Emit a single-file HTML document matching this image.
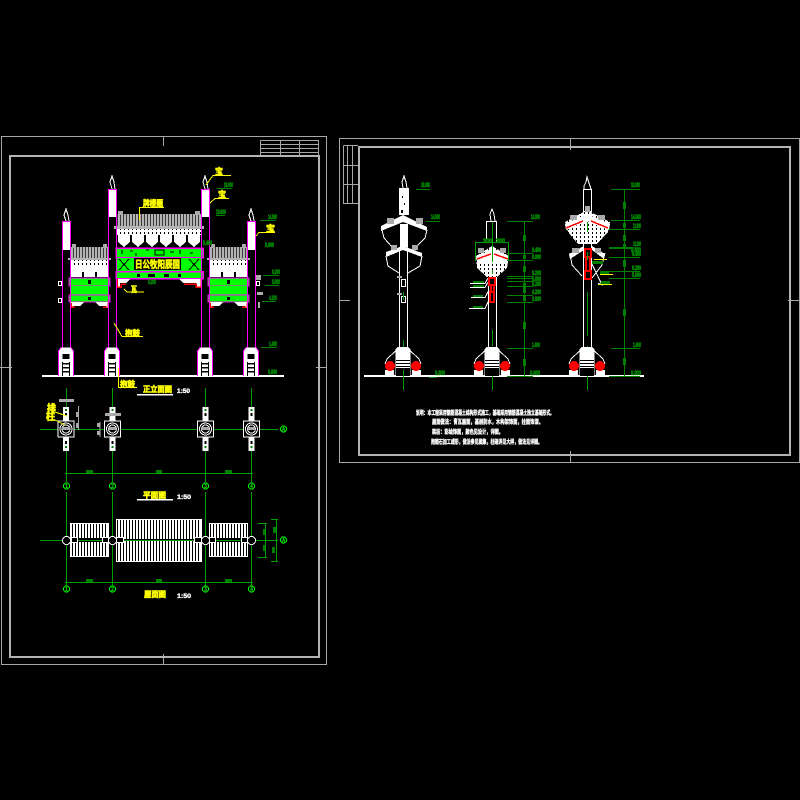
<!DOCTYPE html>
<html><head><meta charset="utf-8"><title>牌楼立面图</title>
<style>
html,body{margin:0;padding:0;background:#000;width:800px;height:800px;overflow:hidden}
svg{display:block}
text{font-family:"Liberation Sans","Noto Sans CJK SC",sans-serif;font-weight:bold}
.d{fill:#008000;stroke:#008000;stroke-width:.7px;font-size:6px}
.y{fill:#ffff00;stroke:#ffff00;stroke-width:.6px;font-size:8px}
.w{fill:#fff;stroke:#fff;stroke-width:.35px;font-size:6px}
.b{fill:#00ff00;font-size:5px;text-anchor:middle}
</style></head><body>
<svg width="800" height="800" viewBox="0 0 800 800" xmlns="http://www.w3.org/2000/svg" shape-rendering="crispEdges">
<defs>
<pattern id="roof" width="3" height="10" patternUnits="userSpaceOnUse"><rect width="3" height="10" fill="#b4b4b4"/><rect width="1" height="10" fill="#3a3a3a"/></pattern>
<pattern id="hatch" width="3" height="10" patternUnits="userSpaceOnUse"><rect width="3" height="10" fill="#fff"/><rect width="1" height="10" fill="#000"/></pattern>
<pattern id="dots" width="4" height="4" patternUnits="userSpaceOnUse"><rect width="4" height="4" fill="#fff"/><rect width="1" height="2" fill="#000"/></pattern>
<pattern id="dots2" width="4" height="4" patternUnits="userSpaceOnUse"><rect width="4" height="4" fill="#fff"/><rect width="1" height="2" fill="#000"/></pattern>
<g id="fbase">
<path d="M-7.5 351 L-5 347.500 H5 L7.500 351 V376 H-7.500Z" fill="#fff"/>
<path d="M-7.500 376 V351 L-5 347.500 M7.500 376 V351 L5 347.500" fill="none" stroke="#f0f" stroke-width="1"/>
<rect x="-3.500" y="354" width="7" height="5" fill="#000"/>
<rect x="-4" y="362" width="1" height="14" fill="#000"/><rect x="3" y="362" width="1" height="14" fill="#000"/>
<rect x="-3" y="363" width="6" height="1.500" fill="#000"/><rect x="-3" y="367" width="6" height="1.500" fill="#000"/><rect x="-3" y="371" width="6" height="1.500" fill="#000"/>
</g>
<g id="sbase">
<path d="M-7.500 349 L-5 347 H5 L7.500 349 V376 H-7.500Z" fill="#fff"/>
<rect x="-7" y="360" width="14" height="1" fill="#000"/><rect x="-7" y="363" width="14" height="1" fill="#000"/><rect x="-7" y="366" width="14" height="1" fill="#000"/>
<rect x="-7" y="368" width="14" height="8" fill="#000"/>
<path d="M-7.500 351 L-16 359 L-18 364 M7.500 351 L16 359 L18 364" fill="none" stroke="#fff"/>
<rect x="-18" y="370" width="9" height="6" fill="#fff"/><rect x="9" y="370" width="9" height="6" fill="#fff"/>
<circle cx="-13" cy="366" r="5" fill="#f00"/><circle cx="13" cy="366" r="5" fill="#f00"/>
</g>
<g id="pln">
<rect x="-3" y="-22" width="6" height="44" fill="#fff"/>
<rect x="-8" y="-8" width="16" height="16" fill="#000" stroke="#fff"/>
<circle r="6" fill="none" stroke="#fff"/><circle r="4" fill="none" stroke="#fff"/>
<rect x="-4" y="-2" width="8" height="3" fill="#aaa"/>
<rect x="-1" y="-16" width="2" height="3" fill="#000"/><rect x="-1" y="12" width="2" height="3" fill="#000"/>
<rect x="-1" y="-20" width="2" height="2" fill="#008000"/><rect x="-1" y="17" width="2" height="2" fill="#008000"/>
</g>
<g id="oct"><circle r="4" fill="#000" stroke="#fff"/></g>
<g id="side">
<rect x="0" y="0" width="39" height="12" fill="url(#roof)"/>
<rect x="-2" y="11" width="43" height="2" fill="#b4b4b4"/>
<rect x="2" y="-3" width="4" height="4" fill="#aaa"/><rect x="33" y="-3" width="4" height="4" fill="#aaa"/>
<rect x="0" y="13" width="39" height="5" fill="url(#dots)"/>
<rect x="0" y="18" width="39" height="12" fill="#fff"/>
<rect x="12" y="25" width="2" height="5" fill="#000"/><rect x="25" y="25" width="2" height="5" fill="#000"/>
<rect x="-1" y="31" width="41" height="8" fill="#0f0" stroke="#f0f"/>
<rect x="1" y="39" width="37" height="9" fill="#0f0"/>
<rect x="-1" y="48" width="41" height="7" fill="#0f0" stroke="#f0f"/>
<rect x="18" y="33" width="3" height="4" fill="#000"/><rect x="18" y="50" width="3" height="3" fill="#000"/>
<path d="M1 55 H14 L10 59 H3 V61 H1Z M38 55 H25 L29 59 H36 V61 H38Z" fill="#fff"/>
<path d="M1 56 V61 M2 60 H5 M38 56 V61 M37 60 H33" stroke="#f00" stroke-width="1.500" fill="none"/>
</g>
</defs>
<rect width="800" height="800" fill="#000"/>

<!-- frames -->
<g fill="none" stroke="#a8a8a8" stroke-width="1">
<rect x="1.500" y="136.500" width="325" height="528"/>
<rect x="339.500" y="138.500" width="460" height="324"/>
<path d="M260.500 140.500 H318.500 V155 M260.500 140.500 V155 M260.500 144.500 H318.500 M260.500 148.500 H318.500 M260.500 152.500 H318.500 M280.500 140.500 V155 M299.500 140.500 V155"/>
<path d="M343.500 145.500 H358 M343.500 145.500 V203.500 H358 M347.500 145.500 V203.500 M352.500 145.500 V203.500 M343.500 165.500 H358 M343.500 184.500 H358"/>
<path d="M0 367.500 H12 M316 367.500 H326 M163.500 136 V146 M163.500 654 V664 M339 300.500 H350 M788 300.500 H800 M570.500 138 V150 M570.500 451 V462"/>
</g>
<g fill="none" stroke="#b4b4b4" stroke-width="2">
<rect x="10" y="156" width="309" height="501"/>
<rect x="359" y="147" width="431" height="308"/>
</g>

<!-- front elevation: ground -->
<rect x="42" y="375" width="242" height="2" fill="#fff"/>
<!-- column tops -->
<g fill="#fff">
<rect x="62" y="222" width="8" height="28"/><rect x="108" y="190" width="9" height="27"/><rect x="201" y="190" width="8" height="27"/><rect x="247" y="222" width="8" height="28"/>
</g>
<g fill="none" stroke="#fff">
<path d="M66 221 L64 215 L66 209 L68 215 L69 221 M112 189 L110 182 L112 176 L114 182 L115 189 M205 189 L203 182 L205 176 L207 182 L208 189 M251 221 L249 215 L251 209 L253 215 L254 221"/>
</g>
<!-- side gates -->
<use href="#side" x="70" y="247"/>
<use href="#side" x="209" y="247"/>
<!-- centre gate -->
<rect x="117" y="214" width="85" height="14" fill="url(#roof)"/>
<rect x="114" y="226" width="90" height="3" fill="#b4b4b4"/>
<rect x="118" y="211" width="5" height="4" fill="#aaa"/><rect x="195" y="211" width="5" height="4" fill="#aaa"/>
<rect x="117" y="229" width="85" height="5" fill="url(#dots2)"/>
<rect x="117" y="234" width="85" height="1" fill="#fff"/>
<g fill="#fff">
<path d="M118 235 h12 v7 l-6 5 l-6 -5z"/><path d="M132 235 h12 v7 l-6 5 l-6 -5z"/><path d="M146 235 h12 v7 l-6 5 l-6 -5z"/><path d="M160 235 h12 v7 l-6 5 l-6 -5z"/><path d="M174 235 h12 v7 l-6 5 l-6 -5z"/><path d="M188 235 h12 v7 l-6 5 l-6 -5z"/>
</g>
<rect x="116" y="248" width="87" height="9.500" fill="#0f0" stroke="#f0f" stroke-width="1.500"/>
<rect x="117" y="258" width="85" height="13" fill="#0f0"/>
<rect x="116" y="271.500" width="87" height="7" fill="#0f0" stroke="#f0f" stroke-width="1.500"/>
<g fill="none" stroke="#000" stroke-width="1">
<path d="M119 259 L129 270 M129 259 L119 270 M189 259 L199 270 M199 259 L189 270"/>
<rect x="155" y="250" width="9" height="5"/>
<path d="M122 250 v4 M130 251 h3 M136 253 v3 M146 250 h3 M170 252 h4 M180 250 v4 M190 253 h3"/>
</g>
<rect x="134" y="258" width="47" height="12" fill="#000"/>
<text x="135" y="268" class="y" style="font-size:10px" textLength="45" lengthAdjust="spacingAndGlyphs">日公牧阳辰国</text>
<g fill="#000"><rect x="137" y="274" width="3" height="3"/><rect x="148" y="274" width="7" height="3"/><rect x="164" y="274" width="5" height="3"/><rect x="178" y="274" width="3" height="3"/></g>
<path d="M117 279 H130 L126 283 H120 V287 H117Z M202 279 H179 L183 283 H196 V287 H202Z" fill="#fff"/>
<path d="M117 279 V287 H121 V284 H126 M201 279 V287 H196 V284 H184" fill="none" stroke="#f00" stroke-width="1.500"/>
<!-- magenta column lines -->
<g stroke="#f0f" stroke-width="1" fill="none">
<path d="M62.500 222 V348 M70.500 222 V348 M108.500 190 V348 M116.500 190 V348 M201.500 190 V348 M209.500 190 V348 M247.500 222 V348 M255.500 222 V348"/>
<path d="M62 221.500 H71 M108 189.500 H117 M201 189.500 H210 M247 221.500 H256"/>
</g>
<use href="#fbase" x="66" y="0"/><use href="#fbase" x="112" y="0"/><use href="#fbase" x="205" y="0"/><use href="#fbase" x="251" y="0"/>
<g fill="none" stroke="#fff"><rect x="58.500" y="281.500" width="3" height="4"/><rect x="58.500" y="298.500" width="3" height="4"/><rect x="256.500" y="281.500" width="3" height="4"/></g>
<g fill="#aaa"><rect x="256" y="275" width="5" height="5"/><rect x="257" y="292" width="6" height="3"/><rect x="258" y="302" width="2" height="6"/></g>
<!-- yellow labels -->
<g stroke="#ff0" fill="none"><path d="M139.500 220 V207.500 H164 M206 185 L213 175.500 H231 M210 203 L215 198.500 H229 M256 236 L259 232.500 H275 M124 289 L127 292 H144 M114 323 L122 336.500 H143 M118.500 368 V387.500 H137"/></g>
<text class="y" x="143" y="206" textLength="20" lengthAdjust="spacingAndGlyphs">牌楼题</text>
<text class="y" x="215" y="174" textLength="8" lengthAdjust="spacingAndGlyphs">宝</text>
<text class="y" x="218" y="197" textLength="8" lengthAdjust="spacingAndGlyphs">宝</text>
<text class="y" x="266" y="231" textLength="9" lengthAdjust="spacingAndGlyphs">宝</text>
<text class="y" x="131" y="292" textLength="6" lengthAdjust="spacingAndGlyphs">瓦</text>
<text class="y" x="125" y="336" textLength="15" lengthAdjust="spacingAndGlyphs">抱鼓</text>
<text class="y" x="120" y="387" textLength="15" lengthAdjust="spacingAndGlyphs">抱鼓</text>
<text class="y" x="143" y="392" textLength="29" lengthAdjust="spacingAndGlyphs">正立面图</text>
<text class="y" x="143" y="498" textLength="23" lengthAdjust="spacingAndGlyphs">平面图</text>
<text class="y" x="144" y="597" textLength="22" lengthAdjust="spacingAndGlyphs">屋面图</text>
<text class="y" style="font-size:10px" x="47" y="412" textLength="9" lengthAdjust="spacingAndGlyphs">排</text>
<text class="y" style="font-size:10px" x="46" y="420" textLength="9" lengthAdjust="spacingAndGlyphs">柱</text>
<g fill="#fff"><rect x="137" y="394" width="36" height="1.500"/><rect x="137" y="499" width="36" height="1.500"/></g>
<text class="w" x="177" y="393" textLength="13" lengthAdjust="spacingAndGlyphs">1:50</text>
<text class="w" x="177" y="499" textLength="14" lengthAdjust="spacingAndGlyphs">1:50</text>
<text class="w" x="177" y="598" textLength="14" lengthAdjust="spacingAndGlyphs">1:50</text>

<!-- front elevation dim labels -->
<text class="d" x="224" y="187" textLength="9" lengthAdjust="spacingAndGlyphs">18.000</text>
<text class="d" x="216" y="214" textLength="10" lengthAdjust="spacingAndGlyphs">16.600</text>
<text class="d" x="268" y="219" textLength="9" lengthAdjust="spacingAndGlyphs">14.500</text>
<text class="d" x="203" y="245" textLength="9" lengthAdjust="spacingAndGlyphs">9.400</text>
<text class="d" x="265" y="247" textLength="9" lengthAdjust="spacingAndGlyphs">9.000</text>
<text class="d" x="148" y="284" textLength="8" lengthAdjust="spacingAndGlyphs">5.200</text>
<text class="d" x="272" y="274" textLength="8" lengthAdjust="spacingAndGlyphs">6.200</text>
<text class="d" x="272" y="284" textLength="8" lengthAdjust="spacingAndGlyphs">5.600</text>
<text class="d" x="269" y="300" textLength="8" lengthAdjust="spacingAndGlyphs">4.200</text>
<text class="d" x="269" y="346" textLength="8" lengthAdjust="spacingAndGlyphs">1.400</text>
<text class="d" x="268" y="374" textLength="9" lengthAdjust="spacingAndGlyphs">0.000</text>
<g stroke="#008000" fill="none"><path d="M217 188.500 H232 M216 215.500 H225 M260 220.500 H276 M263 275.500 H279 M265 285.500 H279 M262 301.500 H276 M261 347.500 H277"/></g>

<!-- grids -->
<g stroke="#00a000" stroke-width="1" fill="none">
<path d="M66.500 388 V482 M112.500 388 V482 M205.500 388 V482 M251.500 388 V482 M66.500 492 V586 M112.500 492 V586 M205.500 492 V586 M251.500 492 V586"/>
<path d="M40 429.500 H278 M40 540.500 H278 M65 473.500 H253 M65 582.500 H253"/>
<path d="M265.500 523 V557 M258 523.500 H267 M258 557.500 H267 M276.500 519 V562 M271 519.500 H278 M271 561.500 H278"/>
</g>
<g fill="#008000"><rect x="86" y="470" width="7" height="3"/><rect x="156" y="470" width="6" height="3"/><rect x="225" y="470" width="7" height="3"/><rect x="86" y="579" width="7" height="3"/><rect x="156" y="579" width="6" height="3"/><rect x="225" y="579" width="7" height="3"/>
<rect x="263" y="529" width="2" height="6"/><rect x="263" y="545" width="2" height="6"/><rect x="273" y="527" width="3" height="6"/><rect x="272" y="547" width="3" height="6"/></g>
<g fill="#000" stroke="#0f0"><circle cx="66.500" cy="486" r="3"/><circle cx="112.500" cy="486" r="3"/><circle cx="205.500" cy="486" r="3"/><circle cx="251.500" cy="486" r="3"/><circle cx="66.500" cy="589" r="3"/><circle cx="112.500" cy="589" r="3"/><circle cx="205.500" cy="589" r="3"/><circle cx="251.500" cy="589" r="3"/><circle cx="283.500" cy="429" r="3"/><circle cx="283.500" cy="540" r="3"/></g>
<text class="b" x="66.500" y="488">1</text><text class="b" x="112.500" y="488">2</text><text class="b" x="205.500" y="488">3</text><text class="b" x="251.500" y="488">4</text>
<text class="b" x="66.500" y="591">1</text><text class="b" x="112.500" y="591">2</text><text class="b" x="205.500" y="591">3</text><text class="b" x="251.500" y="591">4</text>
<text class="b" x="283.500" y="431">A</text><text class="b" x="283.500" y="542">A</text>

<!-- column plans -->
<use href="#pln" x="66" y="429"/><use href="#pln" x="112.500" y="429"/><use href="#pln" x="205.500" y="429"/><use href="#pln" x="251.500" y="429"/>
<g fill="#aaa"><rect x="59" y="399" width="15" height="3"/><rect x="105" y="413" width="16" height="3"/><rect x="97" y="423" width="3" height="4"/><rect x="97" y="431" width="3" height="4"/><rect x="76" y="412" width="3" height="5"/><rect x="76" y="423" width="3" height="5"/></g>
<path d="M78.500 406 V430 M100 422 V437" stroke="#aaa" fill="none"/>
<path d="M55 412 L67 416 M55 420 L65 425" stroke="#ff0" fill="none"/>

<!-- roof plan -->
<g fill="url(#hatch)">
<rect x="116" y="519" width="86" height="20"/><rect x="116" y="541" width="86" height="21"/>
<rect x="70" y="523" width="39" height="15"/><rect x="70" y="542" width="39" height="15"/>
<rect x="209" y="523" width="39" height="15"/><rect x="209" y="542" width="39" height="15"/>
</g>
<g stroke="#fff" fill="none"><rect x="116.500" y="519.500" width="85" height="42"/><rect x="70.500" y="523.500" width="38" height="33"/><rect x="209.500" y="523.500" width="38" height="33"/></g>
<path d="M40 540.500 H278" stroke="#00a000"/>
<g fill="#000" stroke="#fff"><rect x="71.500" y="537.500" width="6" height="5"/><rect x="102.500" y="537.500" width="6" height="5"/><rect x="116.500" y="537.500" width="7" height="5"/><rect x="194.500" y="537.500" width="7" height="5"/><rect x="209.500" y="537.500" width="6" height="5"/><rect x="241.500" y="537.500" width="6" height="5"/></g>
<use href="#oct" x="66.500" y="540.500"/><use href="#oct" x="112.500" y="540.500"/><use href="#oct" x="205.500" y="540.500"/><use href="#oct" x="251.500" y="540.500"/>

<!-- right sheet: ground -->
<rect x="364" y="375" width="280" height="2" fill="#fff"/>

<!-- side drawing 1 -->
<g fill="none" stroke="#fff">
<path d="M403 188 L402 182 L404 176 L406 182 L407 188"/>
<path d="M399.500 247 V347 M407.500 247 V347"/>
<path d="M382 230 L384 238 L392 247 M427 230 L425 238 L416 247 M386 256 L388 266 L399 273 M422 256 L420 266 L408 273"/>
<rect x="401.500" y="279.500" width="4" height="7"/><rect x="401.500" y="296.500" width="4" height="6"/>
</g>
<g fill="#fff">
<rect x="399" y="188" width="10" height="27"/>
<rect x="400" y="224" width="8" height="23"/>
<path d="M403 215 L427 227 V231 L403 222 L381 231 V226Z"/>
<path d="M403 246 L422 253 V257 L403 250 L386 257 V252Z"/>
</g>
<g fill="#aaa"><rect x="387" y="218" width="7" height="6"/><rect x="416" y="218" width="7" height="6"/><rect x="391" y="245" width="6" height="5"/><rect x="412" y="245" width="6" height="5"/><rect x="397" y="276" width="5" height="2"/><rect x="397" y="293" width="5" height="2"/></g>
<g fill="#000"><rect x="402" y="196" width="1" height="2"/><rect x="404" y="203" width="1" height="2"/><rect x="401" y="210" width="2" height="3"/></g>
<use href="#sbase" x="403" y="0"/>
<path d="M403.500 292 V300 M403.500 340 V347 M403.500 370 V390" stroke="#00a000" fill="none"/>
<text class="d" x="421" y="187" textLength="9" lengthAdjust="spacingAndGlyphs">18.000</text><text class="d" x="431" y="219" textLength="9" lengthAdjust="spacingAndGlyphs">14.500</text><text class="d" x="435" y="375" textLength="10" lengthAdjust="spacingAndGlyphs">0.000</text>
<path d="M416 189.500 H430 M426 221.500 H440 M429 377.500 H437" stroke="#008000" fill="none"/>

<!-- side drawing 2 -->
<g fill="none" stroke="#fff">
<path d="M491 221 L490 214 L492 209 L494 214 L495 221"/>
<path d="M486.500 222 V242 M496.500 222 V242 M486 221.500 H497"/>
<path d="M488.500 277 V347 M496.500 277 V347"/>
<path d="M470 283.500 H485 L488 278 M470 287.500 H485 L488 282 M471 297.500 H485 L489 290 M469 308.500 H485 L489 300"/>
</g>
<path d="M476 256 L492 246 L509 256 L507 268 L497 277 H487 L477 268Z" fill="url(#dots2)"/>
<path d="M476 256 L492 250 L509 256 L507 262 H477Z" fill="#fff"/>
<path d="M477 259 L491 254 M494 254 L508 259" stroke="#f00" stroke-width="1.500" fill="none"/>
<g fill="#aaa"><rect x="478" y="248" width="6" height="5"/><rect x="500" y="248" width="6" height="5"/></g>
<path d="M475.500 261 V242.500 H508.500 V261 M492.500 222 V262 M492.500 270 V274 M492.500 330 V346 M492.500 368 V390" stroke="#00a000" fill="none"/>
<g fill="none" stroke="#f00" stroke-width="2"><rect x="489" y="278" width="6" height="7"/><path d="M491 285 V292 M494 285 V292"/><rect x="490" y="292" width="4" height="10"/></g>
<use href="#sbase" x="492" y="0"/>
<g fill="#008000"><rect x="473" y="281" width="11" height="2"/><rect x="473" y="285" width="11" height="2"/><rect x="473" y="295" width="10" height="2"/><rect x="473" y="306" width="10" height="2"/></g>
<text class="d" x="483" y="243" textLength="9" lengthAdjust="spacingAndGlyphs">300</text><text class="d" x="496" y="243" textLength="9" lengthAdjust="spacingAndGlyphs">300</text>

<!-- dims 2 -->
<g stroke="#008000" fill="none">
<path d="M524.500 222 V376"/>
<path d="M507 221.500 H533 M507 253.500 H533 M507 260.500 H533 M507 276.500 H533 M507 278.500 H533 M507 281.500 H533 M507 286.500 H533 M507 295.500 H533 M507 302.500 H533 M507 348.500 H533 M507 376.500 H533"/>
</g>
<g fill="#008000"><rect x="523" y="235" width="3" height="6"/><rect x="523" y="255" width="3" height="4"/><rect x="523" y="266" width="3" height="6"/><rect x="523" y="283" width="3" height="5"/><rect x="523" y="288" width="3" height="5"/><rect x="523" y="296" width="3" height="5"/><rect x="523" y="322" width="3" height="7"/><rect x="523" y="359" width="3" height="7"/></g>
<text class="d" x="531" y="219" textLength="9" lengthAdjust="spacingAndGlyphs">14.500</text>
<text class="d" x="532" y="252" textLength="9" lengthAdjust="spacingAndGlyphs">9.400</text>
<text class="d" x="532" y="259" textLength="9" lengthAdjust="spacingAndGlyphs">9.000</text>
<text class="d" x="532" y="275" textLength="9" lengthAdjust="spacingAndGlyphs">6.200</text>
<text class="d" x="532" y="281" textLength="9" lengthAdjust="spacingAndGlyphs">5.600</text>
<text class="d" x="532" y="286" textLength="9" lengthAdjust="spacingAndGlyphs">5.200</text>
<text class="d" x="532" y="294" textLength="9" lengthAdjust="spacingAndGlyphs">4.200</text>
<text class="d" x="532" y="301" textLength="9" lengthAdjust="spacingAndGlyphs">3.600</text>
<text class="d" x="532" y="347" textLength="8" lengthAdjust="spacingAndGlyphs">1.400</text>
<text class="d" x="530" y="375" textLength="10" lengthAdjust="spacingAndGlyphs">0.000</text>

<!-- side drawing 3 -->
<g fill="none" stroke="#fff">
<path d="M584 189 V186 L586 182 L587 177 L589 183 L591 189"/>
<rect x="583.500" y="189.500" width="8" height="22"/>
<path d="M583.500 240 V350 M591.500 240 V350"/>
<path d="M570 253 L572 265 L582 276 M605 253 L602 265 L592 278 M591 262 L602 285 L598 283"/>
</g>
<path d="M565 222 L587 210 L610 222 L608 232 L597 244 H578 L568 232Z" fill="url(#dots2)"/>
<path d="M565 224 L587 214 L610 224 L609 230 L587 221 L566 230Z" fill="#fff"/>
<path d="M566 228 L583 221 M591 221 L608 228" stroke="#f00" stroke-width="1.500" fill="none"/>
<path d="M569 254 L584 246 V250 L570 259Z M605 254 L592 246 V250 L604 259Z" fill="#fff"/>
<g fill="#aaa"><rect x="570" y="215" width="7" height="5"/><rect x="598" y="215" width="7" height="5"/><rect x="572" y="248" width="7" height="5"/><rect x="595" y="248" width="6" height="5"/><rect x="585" y="206" width="5" height="6"/></g>
<g fill="none" stroke="#f00" stroke-width="2"><rect x="585" y="249" width="6" height="8"/><path d="M586 257 V271 M590 257 V271"/><rect x="585" y="271" width="6" height="8"/></g>
<path d="M587.500 222 V232 M587.500 252 V260 M587.500 292 V336 M587.500 346 V390" stroke="#00a000" fill="none"/>
<use href="#sbase" x="587" y="0"/>
<g fill="#ff0"><rect x="594" y="259" width="13" height="1"/><rect x="600" y="274" width="13" height="1"/><rect x="598" y="284" width="14" height="1"/></g>
<g fill="#008000"><rect x="592" y="261" width="11" height="3"/><rect x="600" y="271" width="9" height="3"/><rect x="601" y="281" width="9" height="3"/></g>

<!-- dims 3 -->
<g stroke="#008000" fill="none">
<path d="M624.500 189 V376"/>
<path d="M611 189.500 H640 M611 220.500 H640 M609 229.500 H640 M609 248 H640 M609 257.500 H640 M609 271.500 H640 M609 278.500 H640 M611 348.500 H640 M609 376.500 H640"/>
</g>
<g fill="#008000"><rect x="623" y="202" width="3" height="7"/><rect x="623" y="223" width="3" height="5"/><rect x="623" y="235" width="3" height="6"/><rect x="623" y="244" width="3" height="5"/><rect x="623" y="260" width="3" height="7"/><rect x="623" y="309" width="3" height="7"/><rect x="623" y="358" width="3" height="7"/><rect x="609" y="247" width="24" height="2"/></g>
<text class="d" x="631" y="187" textLength="9" lengthAdjust="spacingAndGlyphs">18.000</text>
<text class="d" x="631" y="219" textLength="10" lengthAdjust="spacingAndGlyphs">14.500</text>
<text class="d" x="633" y="228" textLength="8" lengthAdjust="spacingAndGlyphs">12.600</text>
<text class="d" x="633" y="246" textLength="8" lengthAdjust="spacingAndGlyphs">10.200</text>
<text class="d" x="631" y="252" textLength="10" lengthAdjust="spacingAndGlyphs">9.400</text>
<text class="d" x="632" y="256" textLength="9" lengthAdjust="spacingAndGlyphs">9.000</text>
<text class="d" x="632" y="270" textLength="9" lengthAdjust="spacingAndGlyphs">6.200</text>
<text class="d" x="632" y="277" textLength="9" lengthAdjust="spacingAndGlyphs">5.600</text>
<text class="d" x="633" y="347" textLength="8" lengthAdjust="spacingAndGlyphs">1.400</text>
<text class="d" x="631" y="375" textLength="10" lengthAdjust="spacingAndGlyphs">0.000</text>

<!-- notes -->
<text class="w" x="416" y="415" textLength="138" lengthAdjust="spacingAndGlyphs">说明：本工程采用钢筋混凝土结构形式施工，基础采用钢筋混凝土独立基础形式。</text>
<text class="w" x="432" y="424" textLength="111" lengthAdjust="spacingAndGlyphs">屋面做法：青瓦屋面，基层防水，木构架饰面，柱面饰漆。</text>
<text class="w" x="432" y="434" textLength="71" lengthAdjust="spacingAndGlyphs">梁枋：彩绘饰面，颜色见设计，详图。</text>
<text class="w" x="431" y="444" textLength="111" lengthAdjust="spacingAndGlyphs">抱鼓石加工成形，做法参见图集，柱础详见大样，做法见详图。</text>
</svg>
</body></html>
